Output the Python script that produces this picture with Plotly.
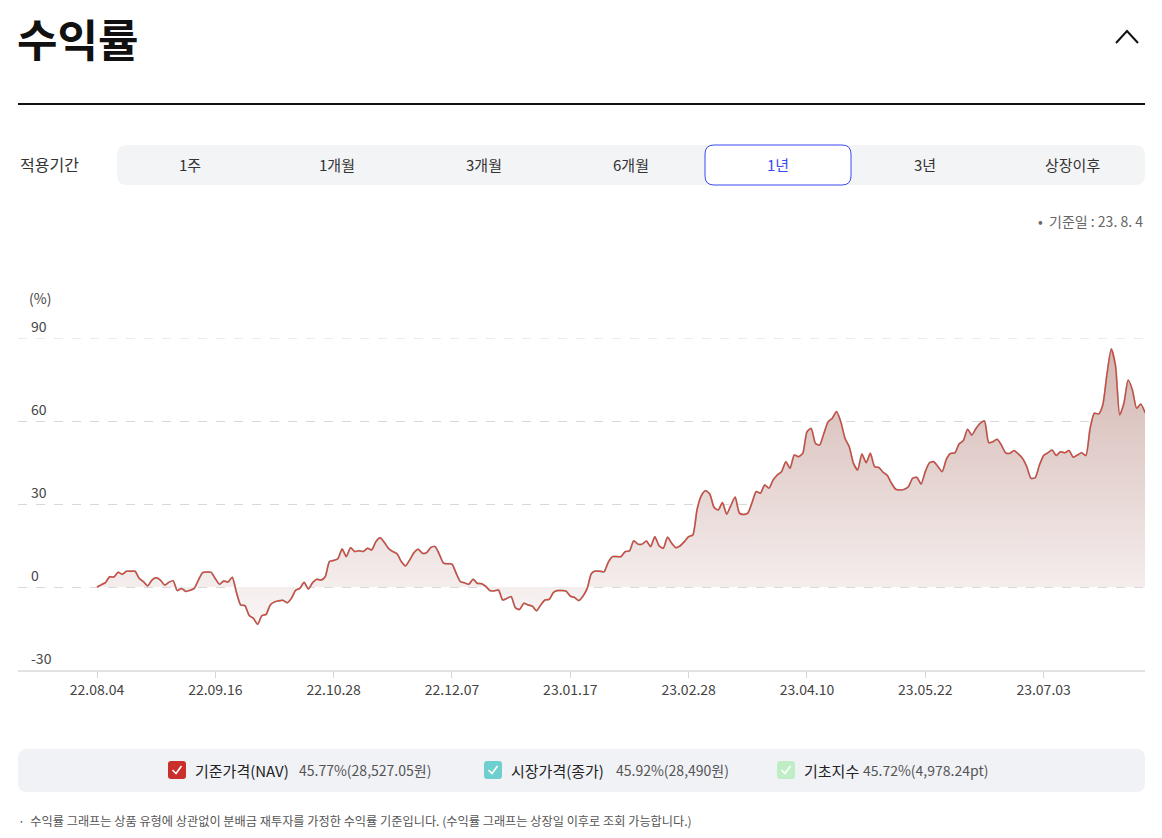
import pandas as pd
import plotly.graph_objects as go

W, H = 1162, 838

# ---------------- data ----------------
holidays = ["2022-08-15", "2022-09-09", "2022-09-12", "2022-10-03", "2022-10-10",
            "2022-12-30", "2023-01-23", "2023-01-24", "2023-03-01", "2023-05-01",
            "2023-05-05", "2023-05-29", "2023-06-06"]
_days = pd.bdate_range("2022-08-04", "2023-08-04")
_days = _days[~_days.isin(pd.to_datetime(holidays))]
dates = [d.strftime("%y.%m.%d") for d in _days]

nav_returns = [
    0, 0.8, 1.6, 3.7, 3.6, 5.3, 4.6, 5.7, 5.7, 5.7,
    3.1, 1.9, 0.4, 2.5, 3.3, 2.5, 0.7, 1.7, 2.3, -1.3,
    -0.5, -1.6, -1.2, -0.5, 2.5, 5.2, 5.4, 5.3, 3.0, 1.0,
    2.2, 1.8, 3.5, -2.0, -6.5, -6.7, -10.3, -11.3, -13.5, -10.4,
    -9.9, -6.5, -5.4, -5.0, -4.8, -5.7, -4.1, -1.2, -0.5, 1.7,
    -0.7, 1.5, 2.8, 2.5, 3.7, 9.2, 9.6, 10.2, 13.7, 11.0,
    14.2, 12.8, 13.1, 12.8, 14.0, 13.4, 16.4, 17.8, 16.1, 13.9,
    12.8, 12.0, 9.2, 7.6, 9.8, 12.4, 13.6, 12.2, 12.4, 14.3,
    14.6, 11.8, 8.6, 8.4, 8.3, 4.9, 1.9, 1.5, 1.0, 2.8,
    1.3, 1.2, 0.2, -1.3, -1.4, -1.1, -4.7, -4.1, -3.5, -7.5,
    -8.1, -5.9, -6.5, -6.9, -8.6, -6.5, -4.7, -4.5, -2.0, -1.3,
    -1.3, -1.5, -3.3, -3.8, -4.9, -3.3, -0.5, 4.9, 5.8, 5.7,
    5.5, 9.0, 11.0, 11.0, 11.0, 12.8, 13.0, 16.7, 15.5, 15.5,
    16.6, 14.6, 18.2, 14.9, 14.0, 18.0, 15.8, 14.2, 14.9, 16.4,
    18.2, 18.8, 28.0, 33.0, 34.8, 33.6, 28.8, 27.8, 30.5, 26.3,
    29.5, 32.5, 26.7, 26.2, 26.7, 30.5, 34.5, 33.9, 36.9, 35.7,
    38.7, 40.5, 41.7, 45.3, 42.9, 47.7, 47.1, 48.3, 56.1, 57.3,
    51.9, 51.3, 55.5, 59.7, 61.0, 63.4, 59.7, 53.7, 50.7, 44.7,
    42.3, 48.1, 44.9, 48.3, 43.5, 43.2, 41.5, 40.3, 37.5, 35.3,
    35.1, 35.3, 36.2, 39.3, 39.6, 37.2, 41.7, 44.9, 45.3, 43.5,
    41.7, 46.2, 48.3, 48.5, 51.7, 52.9, 57.0, 54.9, 57.3, 59.2,
    60.0, 52.2, 52.5, 53.4, 51.3, 48.5, 48.3, 49.3, 48.1, 46.5,
    43.5, 39.3, 39.5, 44.0, 47.5, 48.5, 49.5, 47.5, 48.9, 48.5,
    49.3, 46.9, 47.7, 48.5, 47.5, 57.3, 62.8, 62.5, 65.8, 77.0,
    86.0, 80.0, 62.2, 66.4, 74.8, 71.2, 64.6, 66.1, 63.0,
]
# market price return line coincides with NAV on the chart
market_returns = list(nav_returns)

n = min(len(dates), len(nav_returns))
dates = dates[:n]
nav_returns = nav_returns[:n]
market_returns = market_returns[:n]

x_tick_labels = ["22.08.04", "22.09.16", "22.10.28", "22.12.07", "23.01.17",
                 "23.02.28", "23.04.10", "23.05.22", "23.07.03"]
y_ticks = [90, 60, 30, 0, -30]

periods = ["1주", "1개월", "3개월", "6개월", "1년", "3년", "상장이후"]
period_x = [190, 337, 484, 631, 778, 925, 1072]
selected_period = "1년"

legend_names = ["기준가격(NAV)", "시장가격(종가)", "기초지수"]
legend_values = ["45.77%(28,527.05원)", "45.92%(28,490원)", "45.72%(4,978.24pt)"]
legend_colors = ["#c9302c", "#6fcfcf", "#bfeec6"]

FONT = "Noto Sans CJK KR"


def X(x):
    return x / W


def Y(y):
    return 1 - y / H


def rrect(x0, y0, x1, y1, r):
    return (f"M {X(x0 + r)},{Y(y0)} L {X(x1 - r)},{Y(y0)} Q {X(x1)},{Y(y0)} {X(x1)},{Y(y0 + r)} "
            f"L {X(x1)},{Y(y1 - r)} Q {X(x1)},{Y(y1)} {X(x1 - r)},{Y(y1)} "
            f"L {X(x0 + r)},{Y(y1)} Q {X(x0)},{Y(y1)} {X(x0)},{Y(y1 - r)} "
            f"L {X(x0)},{Y(y0 + r)} Q {X(x0)},{Y(y0)} {X(x0 + r)},{Y(y0)} Z")


fig = go.Figure()

# gradient fill area
fig.add_trace(go.Scatter(
    x=dates, y=nav_returns, mode="lines",
    line=dict(width=0, shape="spline", smoothing=0.6),
    fill="tozeroy",
    fillgradient=dict(type="vertical", start=-15, stop=90,
                      colorscale=[[0, "rgba(250,247,247,1)"], [1, "rgba(210,180,175,1)"]]),
    hoverinfo="skip", showlegend=False,
))
fig.add_trace(go.Scatter(
    x=dates, y=market_returns, mode="lines", name="시장가격(종가)",
    line=dict(color="#7fd6d6", width=1.8, shape="spline", smoothing=0.6),
    showlegend=False,
))
fig.add_trace(go.Scatter(
    x=dates, y=nav_returns, mode="lines", name="기준가격(NAV)",
    line=dict(color="#d9473c", width=1.5, shape="spline", smoothing=0.6),
    showlegend=False,
))

x0_px, x1_px = 18, 1145
first_px, step_px = 97, 4.226
fig.update_layout(
    width=W, height=H,
    margin=dict(l=0, r=0, t=0, b=0),
    paper_bgcolor="white", plot_bgcolor="white",
    font=dict(family=FONT, color="#333"),
    xaxis=dict(
        type="category",
        domain=[X(x0_px), X(x1_px)],
        range=[-(first_px - x0_px) / step_px, n - 1 + (x1_px - (first_px + (n - 1) * step_px)) / step_px],
        tickmode="array", tickvals=x_tick_labels, ticktext=x_tick_labels,
        showgrid=False, zeroline=False,
        showline=True, linecolor="#e2e2e2", linewidth=2,
        ticks="outside", ticklen=6, tickcolor="#d6d6d6", tickwidth=1,
        tickfont=dict(size=14, color="#444", family=FONT),
    ),
    yaxis=dict(
        domain=[Y(670), Y(338)],
        range=[-30, 90],
        tickmode="array", tickvals=y_ticks,
        showticklabels=False,
        showgrid=True, gridcolor="#d8d8d8", griddash="dash", gridwidth=1,
        zeroline=False, showline=False,
    ),
)

shapes = []
annotations = []

# top gridline (at the range edge)
shapes.append(dict(type="line", xref="paper", yref="y", x0=X(x0_px), x1=X(x1_px), y0=y_ticks[0], y1=y_ticks[0],
                   line=dict(color="#d8d8d8", width=1, dash="dash"), layer="below"))

# title + chevron + divider
annotations.append(dict(xref="paper", yref="paper", x=X(15), y=Y(38), xanchor="left", yanchor="middle",
                        text="수익률", showarrow=False, font=dict(size=44, color="#111", family=FONT, weight=600)))
shapes.append(dict(type="path", xref="paper", yref="paper",
                   path=f"M {X(1116)},{Y(43)} L {X(1127)},{Y(31)} L {X(1138)},{Y(43)}",
                   line=dict(color="#111", width=2)))
shapes.append(dict(type="line", xref="paper", yref="paper", x0=X(18), x1=X(1145), y0=Y(104), y1=Y(104),
                   line=dict(color="#111", width=2)))

# period selector
annotations.append(dict(xref="paper", yref="paper", x=X(18), y=Y(164), xanchor="left", yanchor="middle",
                        text="적용기간", showarrow=False, font=dict(size=16, color="#333", family=FONT)))
shapes.append(dict(type="path", xref="paper", yref="paper", path=rrect(117, 145, 1145, 185, 10),
                   fillcolor="#f3f4f6", line=dict(width=0), layer="below"))
for lab, px_ in zip(periods, period_x):
    sel = lab == selected_period
    if sel:
        shapes.append(dict(type="path", xref="paper", yref="paper", path=rrect(705, 145, 851, 185, 9),
                           fillcolor="white", line=dict(color="#3a4af2", width=1), layer="below"))
    annotations.append(dict(xref="paper", yref="paper", x=X(px_), y=Y(164), xanchor="center", yanchor="middle",
                            text=lab, showarrow=False,
                            font=dict(size=15, color="#3a4af2" if sel else "#333", family=FONT)))

# reference date
annotations.append(dict(xref="paper", yref="paper", x=X(1145), y=Y(221), xanchor="right", yanchor="middle",
                        text="•  기준일 : 23. 8. 4", showarrow=False, font=dict(size=14, color="#666", family=FONT)))

# y unit + y tick labels above the gridlines
annotations.append(dict(xref="paper", yref="paper", x=X(27), y=Y(298), xanchor="left", yanchor="middle",
                        text="(%)", showarrow=False, font=dict(size=14, color="#444", family=FONT)))
for v in y_ticks:
    annotations.append(dict(xref="paper", yref="y", x=X(29), y=v, xanchor="left", yanchor="bottom", yshift=0,
                            text=str(v), showarrow=False, font=dict(size=14, color="#444", family=FONT)))

# legend bar
shapes.append(dict(type="path", xref="paper", yref="paper", path=rrect(18, 749, 1145, 792, 9),
                   fillcolor="#f1f2f6", line=dict(width=0), layer="below"))
box_x = [168, 484, 777]
name_x = [193, 509, 802]
val_x = [297, 614, 861]
for bx, nx, vx, nm, vl, col in zip(box_x, name_x, val_x, legend_names, legend_values, legend_colors):
    shapes.append(dict(type="path", xref="paper", yref="paper", path=rrect(bx, 761, bx + 18, 779, 3),
                       fillcolor=col, line=dict(width=0)))
    shapes.append(dict(type="path", xref="paper", yref="paper",
                       path=f"M {X(bx + 4.5)},{Y(770)} L {X(bx + 8)},{Y(773.5)} L {X(bx + 13.5)},{Y(766)}",
                       line=dict(color="white", width=1.6)))
    annotations.append(dict(xref="paper", yref="paper", x=X(nx), y=Y(770), xanchor="left", yanchor="middle",
                            text=nm, showarrow=False, font=dict(size=15, color="#222", family=FONT)))
    annotations.append(dict(xref="paper", yref="paper", x=X(vx), y=Y(770), xanchor="left", yanchor="middle",
                            text=vl, showarrow=False, font=dict(size=14, color="#555", family=FONT)))

# footnote
annotations.append(dict(xref="paper", yref="paper", x=X(16), y=Y(821), xanchor="left", yanchor="middle",
                        text="·  수익률 그래프는 상품 유형에 상관없이 분배금 재투자를 가정한 수익률 기준입니다. (수익률 그래프는 상장일 이후로 조회 가능합니다.)",
                        showarrow=False, font=dict(size=12.2, color="#555", family=FONT)))

fig.update_layout(shapes=shapes, annotations=annotations)
fig.write_html("out.html")
